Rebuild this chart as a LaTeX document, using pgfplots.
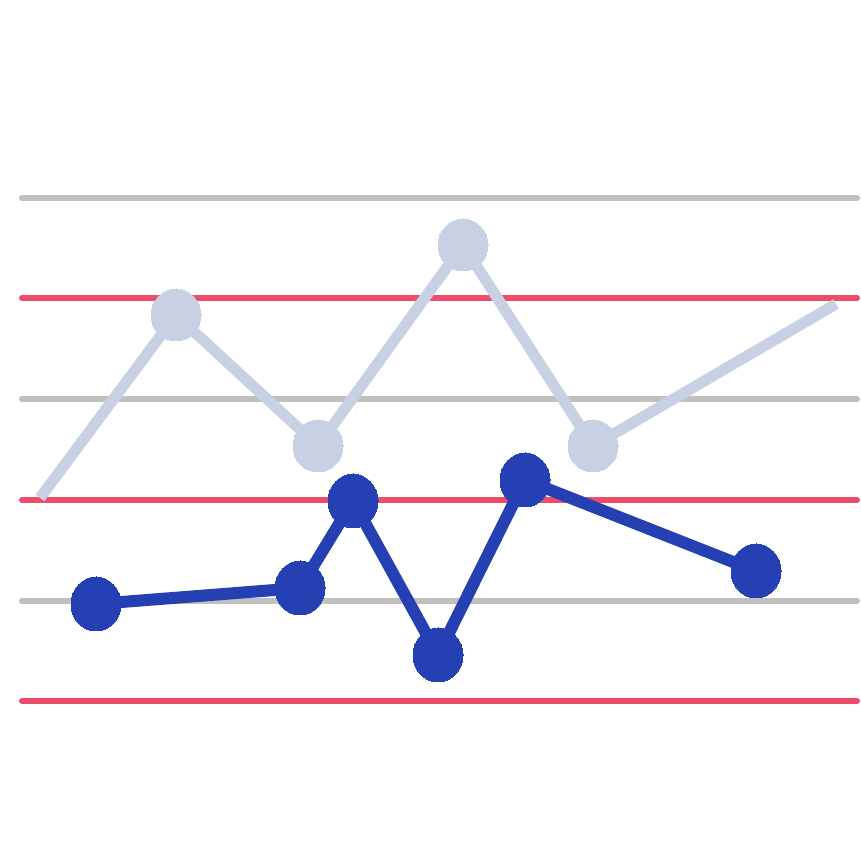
\documentclass[border=0pt]{standalone}
\usepackage{pgfplots}
\pgfplotsset{compat=1.18}
\definecolor{gridgray}{HTML}{C0C0C0}
\definecolor{gridred}{HTML}{EC4D6B}
\definecolor{lightser}{HTML}{C8D1E3}
\definecolor{darkser}{HTML}{2440B2}
\begin{document}
\begin{tikzpicture}
\begin{axis}[
  width=860pt, height=860pt, scale only axis,
  xmin=0, xmax=860, ymin=0, ymax=860,
  hide axis, clip=true,
]
\path[use as bounding box, fill=white] (rel axis cs:0,0) rectangle (rel axis cs:1,1);
% horizontal bands
\addplot[gridgray, line width=6pt, line cap=round] coordinates {(22,662) (857,662)};
\addplot[gridred, line width=6pt, line cap=round] coordinates {(22,562) (857,562)};
\addplot[gridgray, line width=6pt, line cap=round] coordinates {(22,461) (857,461)};
\addplot[gridred, line width=6pt, line cap=round] coordinates {(22,360) (857,360)};
\addplot[gridgray, line width=6pt, line cap=round] coordinates {(22,259) (857,259)};
\addplot[gridred, line width=6pt, line cap=round] coordinates {(22,159) (857,159)};
% light series
\addplot[lightser, line width=11pt, line cap=butt, line join=round,
  mark=*, mark indices={2,3,4,5}, mark size=25pt, mark options={solid, fill=lightser, draw=lightser, line width=0pt, yscale=1.04}]
  coordinates {(40,362) (176,545) (318,414) (463,615) (593,414) (836,556)};
% dark series
\addplot[darkser, line width=12pt, line cap=butt, line join=round,
  mark=*, mark size=25pt, mark options={solid, fill=darkser, draw=darkser, line width=0pt, yscale=1.08}]
  coordinates {(96,256) (300,272) (353,359) (438,205) (525,380) (756,289)};
\end{axis}
\end{tikzpicture}
\end{document}
